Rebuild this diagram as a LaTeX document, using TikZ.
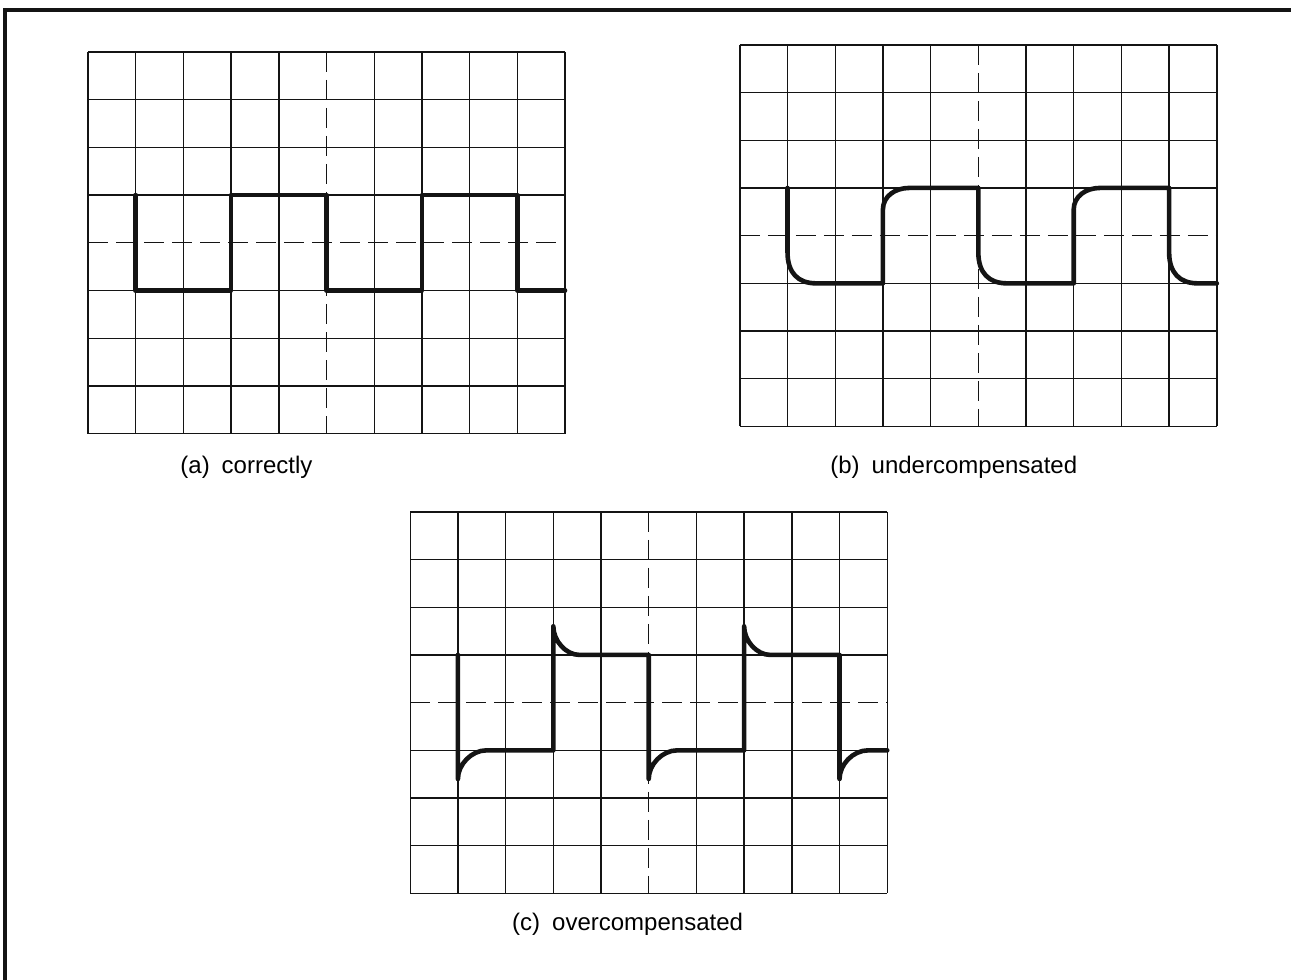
\documentclass[tikz,border=0pt]{standalone}
\usepackage{fontspec}
\setmainfont{Liberation Sans}
\usepackage{tikz}
\usetikzlibrary{calc}
\definecolor{ink}{RGB}{20,20,20}
\tikzset{
  gridln/.style  ={draw=ink, line width=0.7pt},
  centreln/.style={draw=ink, line width=0.7pt, dash pattern=on 10pt off 4pt},
  trace/.style   ={draw=ink, line width=2.3pt, line join=round, line cap=round},
  frameln/.style ={draw=ink, line width=2pt},
  lbl/.style     ={font=\fontsize{12}{14}\selectfont, inner sep=0pt, anchor=west}
}
% one 10 x 8 graticule, centre lines dashed
\newcommand{\drawgraticule}{%
  \foreach \i in {0,1,2,3,4,6,7,8,9,10}{\draw[gridln] (\i,0) -- (\i,8);}
  \foreach \j in {0,1,2,3,5,6,7,8}{\draw[gridln] (0,\j) -- (10,\j);}
  \draw[centreln] (5,0) -- (5,8);
  \draw[centreln] (0,4) -- (10,4);
}

\begin{document}
\begin{tikzpicture}[x=23.85pt, y=-23.85pt]
\clip (0,0) rectangle (27.065,20.545);
\draw[frameln] (0.105,0.21) rectangle (28,22);

% (a) correctly compensated
\begin{scope}[shift={(1.845,1.09)}]
\drawgraticule
\draw[trace] (1,3) -- (1,5) -- (3,5) -- (3,3) -- (5,3) -- (5,5) -- (7,5)
  -- (7,3) -- (9,3) -- (9,5) -- (10,5);
\end{scope}
\node[lbl] (la) at (3.774,9.79) {(a)\enspace correctly};

% (b) undercompensated
\begin{scope}[shift={(15.51,0.94)}]
\drawgraticule
\draw[trace] (1,3) -- (1,4.35) .. controls (1,4.78) and (1.22,5) .. (1.6,5)
  -- (3,5) -- (3,3.45) .. controls (3,3.18) and (3.25,3) .. (3.55,3)
  -- (5,3) -- (5,4.35) .. controls (5,4.78) and (5.22,5) .. (5.6,5)
  -- (7,5) -- (7,3.45) .. controls (7,3.18) and (7.25,3) .. (7.55,3)
  -- (9,3) -- (9,4.35) .. controls (9,4.78) and (9.22,5) .. (9.6,5)
  -- (10,5);
\end{scope}
\node[lbl] (lb) at (17.40,9.79) {(b)\enspace undercompensated};

% (c) overcompensated
\begin{scope}[shift={(8.60,10.73)}]
\drawgraticule
\draw[trace] (1,3) -- (1,5.6) .. controls (1,5.3) and (1.28,5) .. (1.6,5)
  -- (3,5) -- (3,2.4) .. controls (3,2.7) and (3.26,3) .. (3.55,3)
  -- (5,3) -- (5,5.6) .. controls (5,5.3) and (5.28,5) .. (5.6,5)
  -- (7,5) -- (7,2.4) .. controls (7,2.7) and (7.26,3) .. (7.55,3)
  -- (9,3) -- (9,5.6) .. controls (9,5.3) and (9.28,5) .. (9.6,5)
  -- (10,5);
\end{scope}
\node[lbl] (lc) at (10.73,19.37) {(c)\enspace overcompensated};
\end{tikzpicture}
\end{document}
